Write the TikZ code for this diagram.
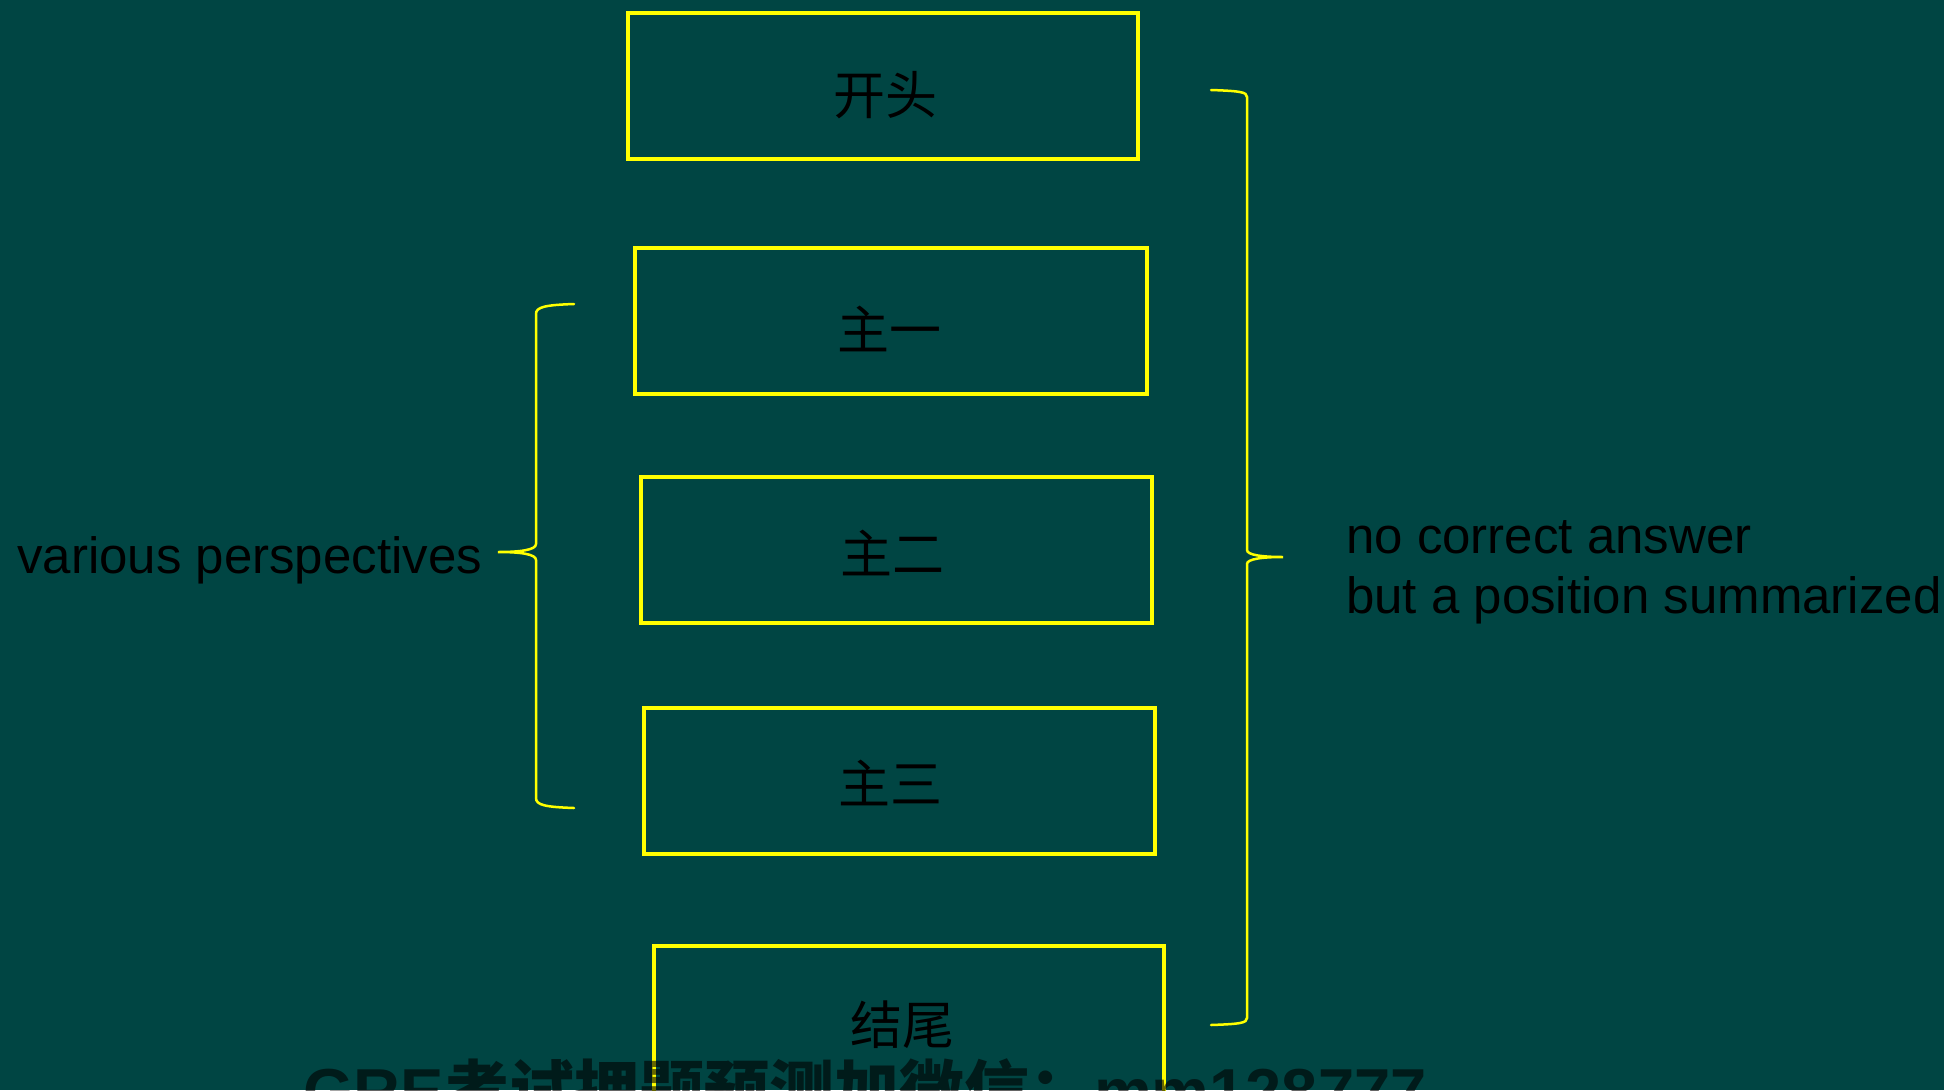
\documentclass[tikz,border=0pt]{standalone}
\usepackage{fontspec}
\setmainfont{Liberation Sans}
\newfontfamily\cjk{Noto Sans CJK SC}
\definecolor{bg}{RGB}{0,69,67}
\definecolor{ylw}{RGB}{255,255,0}
\tikzset{
  box/.style={draw=ylw, line width=4pt, rectangle, inner sep=0pt, anchor=north west},
  bracepath/.style={draw=ylw, line width=2.5pt, line cap=round},
  cjklabel/.style={font=\cjk\fontsize{52}{60}\selectfont, text=black, anchor=base, inner sep=0pt},
  sidelabel/.style={font=\fontsize{51}{60}\selectfont, text=black, anchor=base west, inner sep=0pt},
  watermark/.style={font=\fontsize{65}{70}\selectfont\bfseries, text=black, text opacity=0.6, anchor=base west, inner sep=0pt}
}
\begin{document}
\begin{tikzpicture}[x=1pt,y=-1pt]
\useasboundingbox (0,0) rectangle (1944,1090);
\clip (0,0) rectangle (1944,1090);
\fill[bg] (0,0) rectangle (1944,1090);

% boxes
\node[box, minimum width=510pt, minimum height=146pt] (b1) at (626,11) {};
\node[box, minimum width=512pt, minimum height=146pt] (b2) at (633,246) {};
\node[box, minimum width=511pt, minimum height=146pt] (b3) at (639,475) {};
\node[box, minimum width=511pt, minimum height=146pt] (b4) at (642,706) {};
\node[box, minimum width=510pt, minimum height=160pt] (b5) at (652,944) {};

% box texts
\node[cjklabel] (t1) at (885,114) {开头};
\node[cjklabel] (t2) at (889,349) {主一};
\node[cjklabel] (t3) at (892,573) {主二};
\node[cjklabel] (t4) at (890,803) {主三};
\node[cjklabel] (t5) at (902,1044) {结尾};

% left brace
\coordinate (lbtop) at (574,304);
\coordinate (lbtip) at (498,552);
\coordinate (lbbot) at (574,808);
\draw[bracepath] (lbtop) .. controls (545,305) and (536,307) .. (536,314)
  -- (536,544) .. controls (536,550) and (520,552) .. (lbtip)
  .. controls (520,552) and (536,554) .. (536,560)
  -- (536,798) .. controls (536,805) and (545,807) .. (lbbot);

% right brace
\coordinate (rbtop) at (1211,90);
\coordinate (rbtip) at (1283,557);
\coordinate (rbbot) at (1211,1025);
\draw[bracepath] (rbtop) .. controls (1240,91) and (1247,92) .. (1247,97)
  -- (1247,550) .. controls (1247,555) and (1262,557) .. (rbtip)
  .. controls (1262,557) and (1247,559) .. (1247,564)
  -- (1247,1018) .. controls (1247,1023) and (1240,1024) .. (rbbot);

% side labels
\node[sidelabel] (lv) at (17,573) {various perspectives};
\node[sidelabel] (r1) at (1346,553) {no correct answer};
\node[sidelabel] (r2) at (1346,613) {but a position summarized};

% watermark
\node[watermark] (wm) at (303,1114) {GRE{\cjk\bfseries 考试押题预测加微信：}mm128777};
\end{tikzpicture}
\end{document}
